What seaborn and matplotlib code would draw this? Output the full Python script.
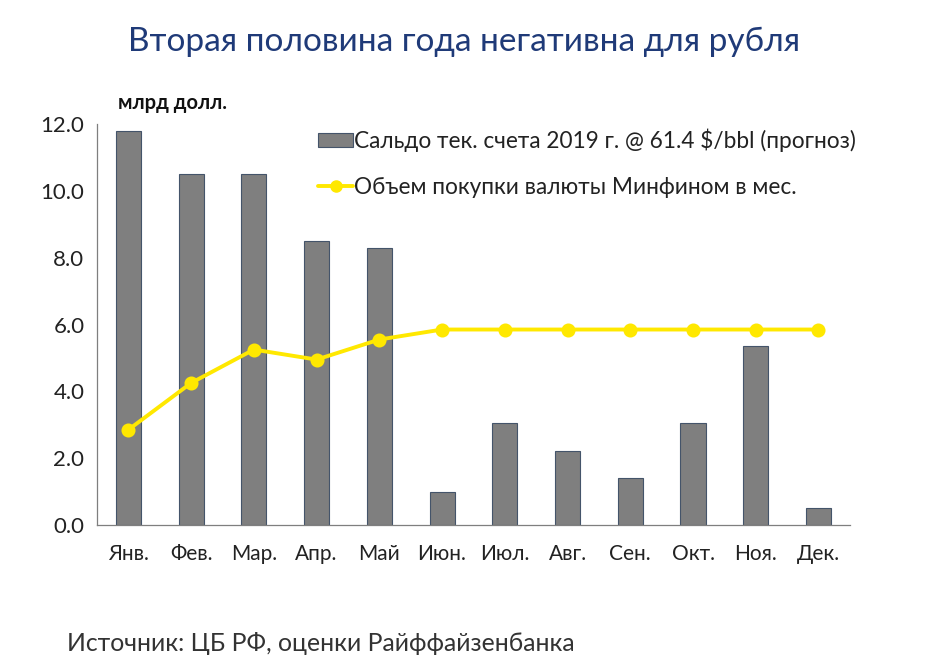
import matplotlib
matplotlib.use("Agg")
import matplotlib.pyplot as plt
from matplotlib.patches import Patch
from matplotlib.lines import Line2D
import numpy as np
import pandas as pd
import seaborn as sns

months = ["Янв.", "Фев.", "Мар.", "Апр.", "Май", "Июн.",
          "Июл.", "Авг.", "Сен.", "Окт.", "Ноя.", "Дек."]
current_account = [11.8, 10.5, 10.5, 8.5, 8.3, 1.0, 3.05, 2.2, 1.4, 3.05, 5.35, 0.5]
minfin_purchases = [2.85, 4.25, 5.25, 4.95, 5.55, 5.85, 5.85, 5.85, 5.85, 5.85, 5.85, 5.85]
y_ticks = [0, 2, 4, 6, 8, 10, 12]

bar_label = "Сальдо тек. счета 2019 г. @ 61.4 $/bbl (прогноз)"
line_label = "Объем покупки валюты Минфином в мес."

df = pd.DataFrame({"month": months, "ca": current_account, "buy": minfin_purchases})

sns.set_theme(style="white")
plt.rcParams["font.family"] = ["Lato", "DejaVu Sans"]

fig = plt.figure(figsize=(9.37, 6.66), dpi=100)
ax = fig.add_axes([0.1035, 0.2117, 0.8035, 0.6021])

bar_color = "#7f7f7f"
line_color = "#ffe800"
axis_color = "#7f7f7f"
text_color = "#222222"

sns.barplot(data=df, x="month", y="ca", order=months, color=bar_color,
            width=0.4, edgecolor="#44546a", linewidth=0.8, saturation=1, ax=ax)
sns.pointplot(data=df, x="month", y="buy", order=months, color=line_color,
              markers="o", markersize=8, linewidth=2.8, ax=ax)

ax.set_ylim(0, 12)
ax.set_xlim(-0.5, len(months) - 0.5)
ax.set_yticks(y_ticks)
ax.set_yticklabels([f"{v:.1f}" for v in y_ticks], fontsize=16, color=text_color)
ax.set_xlabel("")
ax.set_ylabel("")

# category boundaries as tick marks, labels in the middle
ax.set_xticks(np.arange(len(months)))
ax.set_xticklabels(months, fontsize=15, color=text_color)
ax.set_xticks(np.arange(len(months) + 1) - 0.5, minor=True)
ax.tick_params(axis="x", which="major", length=0, pad=14)
ax.tick_params(axis="x", which="minor", length=7, width=0.8, color=axis_color, direction="out")
ax.tick_params(axis="y", length=5, width=0.8, color=axis_color, direction="out", pad=4)

sns.despine(ax=ax, top=True, right=True)
for side in ["left", "bottom"]:
    ax.spines[side].set_color(axis_color)
    ax.spines[side].set_linewidth(0.9)

handles = [
    Patch(facecolor=bar_color, edgecolor="#44546a", linewidth=0.8, label=bar_label),
    Line2D([0], [0], color=line_color, lw=2.8, marker="o", markersize=8, label=line_label),
]
leg = ax.legend(handles=handles, loc="upper left", bbox_to_anchor=(0.2815, 1.012),
                frameon=False, fontsize=16.3, handlelength=1.55, handleheight=0.6,
                handletextpad=0.05, labelspacing=1.1, borderaxespad=0)
for t in leg.get_texts():
    t.set_color(text_color)

fig.text(0.495, 0.937, "Вторая половина года негативна для рубля", ha="center", va="center",
         fontsize=24, color="#1f3a78")
fig.text(0.126, 0.845, "млрд долл.", ha="left", va="center", fontsize=14.5,
         fontweight="bold", color="#111111")
fig.text(0.072, 0.034, "Источник: ЦБ РФ, оценки Райффайзенбанка", ha="left", va="center",
         fontsize=17.8, color="#333333")

fig.savefig("out.png", dpi=100, facecolor="white")
